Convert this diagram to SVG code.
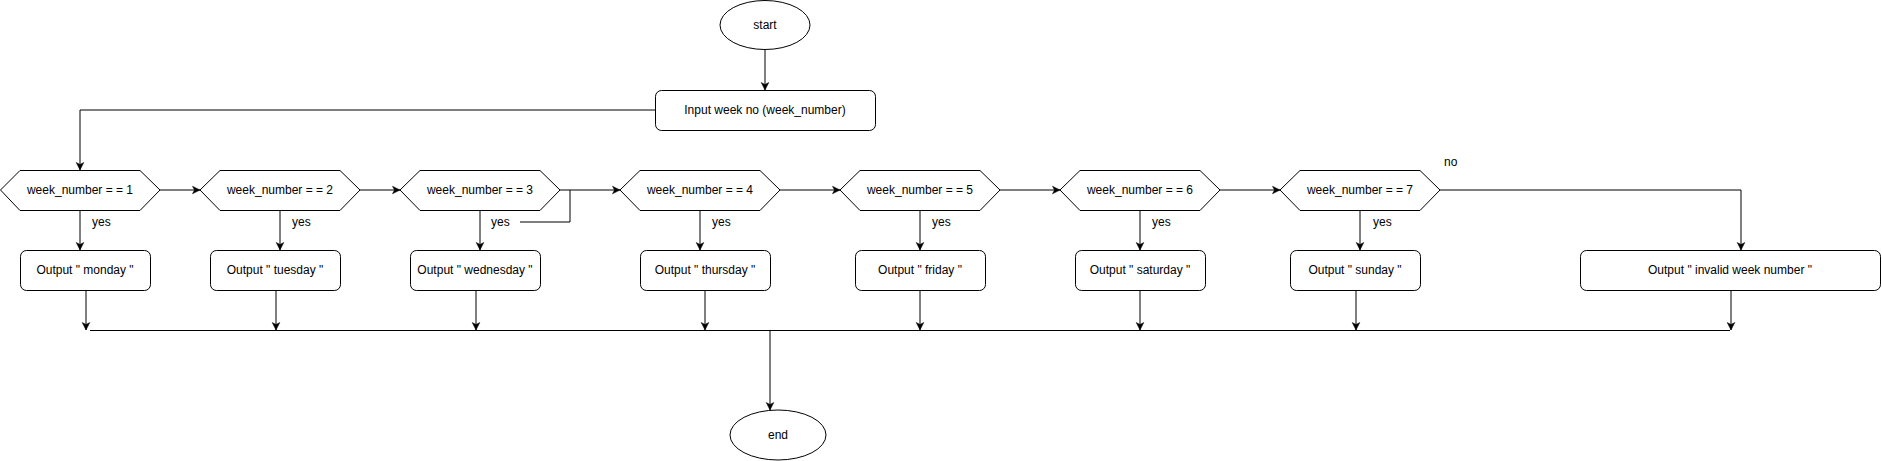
<svg xmlns="http://www.w3.org/2000/svg" width="1882" height="461" viewBox="0 0 1882 461">
<style>
  .shape { fill: #ffffff; stroke: #000000; stroke-width: 1; }
  .edge { fill: none; stroke: #000000; stroke-width: 1; }
  .arrow { marker-end: url(#arr); }
  text { font-family: "Liberation Sans", Arial, Helvetica, sans-serif; font-size: 12px; fill: #000000; }
  .c { text-anchor: middle; dominant-baseline: central; }
  .l { text-anchor: start; dominant-baseline: central; }
</style>
<defs>
  <marker id="arr" markerUnits="userSpaceOnUse" markerWidth="10" markerHeight="10" refX="8" refY="5" orient="auto">
    <path d="M0.5,1.2 L8,5 L0.5,8.8 L2.5,5 Z" fill="#000000" stroke="#000000" stroke-width="0.5"/>
  </marker>
</defs>
<rect x="0" y="0" width="1882" height="461" fill="#ffffff"/>

<g id="connectors">
  <path class="edge arrow" d="M765,50 L765,90"/>
  <path class="edge arrow" d="M655,110 L80,110 L80,170"/>
  <path class="edge arrow" d="M160,190 L200,190"/>
  <path class="edge arrow" d="M360,190 L400,190"/>
  <path class="edge arrow" d="M560,190 L620,190"/>
  <path class="edge" d="M570,190 L570,222 L520,222"/>
  <path class="edge arrow" d="M780,190 L840,190"/>
  <path class="edge arrow" d="M1000,190 L1060,190"/>
  <path class="edge arrow" d="M1220,190 L1280,190"/>
  <path class="edge arrow" d="M1440,190 L1741,190 L1741,250"/>
  <path class="edge arrow" d="M80,210 L80,250"/>
  <path class="edge arrow" d="M280,210 L280,250"/>
  <path class="edge arrow" d="M480,210 L480,250"/>
  <path class="edge arrow" d="M700,210 L700,250"/>
  <path class="edge arrow" d="M920,210 L920,250"/>
  <path class="edge arrow" d="M1140,210 L1140,250"/>
  <path class="edge arrow" d="M1360,210 L1360,250"/>
  <path class="edge arrow" d="M86,290 L86,330"/>
  <path class="edge arrow" d="M276,290 L276,330"/>
  <path class="edge arrow" d="M476,290 L476,330"/>
  <path class="edge arrow" d="M705,290 L705,330"/>
  <path class="edge arrow" d="M920,290 L920,330"/>
  <path class="edge arrow" d="M1140,290 L1140,330"/>
  <path class="edge arrow" d="M1356,290 L1356,330"/>
  <path class="edge arrow" d="M1731,290 L1731,330"/>
  <path class="edge" d="M90,330.5 L1730,330.5"/>
  <path class="edge arrow" d="M770,330 L770,410"/>
  <text class="l" x="92" y="222">yes</text>
  <text class="l" x="292" y="222">yes</text>
  <text class="l" x="491" y="222">yes</text>
  <text class="l" x="712" y="222">yes</text>
  <text class="l" x="932" y="222">yes</text>
  <text class="l" x="1152" y="222">yes</text>
  <text class="l" x="1373" y="222">yes</text>
  <text class="l" x="1444" y="162">no</text>
</g>

<g id="start">
  <ellipse class="shape" cx="765" cy="25" rx="45" ry="24.5"/>
  <text class="c" x="765" y="25">start</text>
</g>
<g id="input">
  <rect class="shape" x="655.5" y="90.5" width="220" height="40" rx="6"/>
  <text class="c" x="765" y="110">Input week no (week_number)</text>
</g>

<g id="dec1">
  <polygon class="shape" points="0.5,190 20,170.5 140,170.5 160,190 140,210.5 20,210.5"/>
  <text class="c" x="80" y="190">week_number = = 1</text>
</g>
<g id="dec2">
  <polygon class="shape" points="200,190 220,170.5 340,170.5 360,190 340,210.5 220,210.5"/>
  <text class="c" x="280" y="190">week_number = = 2</text>
</g>
<g id="dec3">
  <polygon class="shape" points="400,190 420,170.5 540,170.5 560,190 540,210.5 420,210.5"/>
  <text class="c" x="480" y="190">week_number = = 3</text>
</g>
<g id="dec4">
  <polygon class="shape" points="620,190 640,170.5 760,170.5 780,190 760,210.5 640,210.5"/>
  <text class="c" x="700" y="190">week_number = = 4</text>
</g>
<g id="dec5">
  <polygon class="shape" points="840,190 860,170.5 980,170.5 1000,190 980,210.5 860,210.5"/>
  <text class="c" x="920" y="190">week_number = = 5</text>
</g>
<g id="dec6">
  <polygon class="shape" points="1060,190 1080,170.5 1200,170.5 1220,190 1200,210.5 1080,210.5"/>
  <text class="c" x="1140" y="190">week_number = = 6</text>
</g>
<g id="dec7">
  <polygon class="shape" points="1280,190 1300,170.5 1420,170.5 1440,190 1420,210.5 1300,210.5"/>
  <text class="c" x="1360" y="190">week_number = = 7</text>
</g>

<g id="out1">
  <rect class="shape" x="20.5" y="250.5" width="130" height="40" rx="6"/>
  <text class="c" x="85" y="270">Output " monday "</text>
</g>
<g id="out2">
  <rect class="shape" x="210.5" y="250.5" width="130" height="40" rx="6"/>
  <text class="c" x="275" y="270">Output " tuesday "</text>
</g>
<g id="out3">
  <rect class="shape" x="410.5" y="250.5" width="130" height="40" rx="6"/>
  <text class="c" x="475" y="270">Output " wednesday "</text>
</g>
<g id="out4">
  <rect class="shape" x="640.5" y="250.5" width="130" height="40" rx="6"/>
  <text class="c" x="705" y="270">Output " thursday "</text>
</g>
<g id="out5">
  <rect class="shape" x="855.5" y="250.5" width="130" height="40" rx="6"/>
  <text class="c" x="920" y="270">Output " friday "</text>
</g>
<g id="out6">
  <rect class="shape" x="1075.5" y="250.5" width="130" height="40" rx="6"/>
  <text class="c" x="1140" y="270">Output " saturday "</text>
</g>
<g id="out7">
  <rect class="shape" x="1290.5" y="250.5" width="130" height="40" rx="6"/>
  <text class="c" x="1355" y="270">Output " sunday "</text>
</g>
<g id="out8">
  <rect class="shape" x="1580.5" y="250.5" width="300" height="40" rx="6"/>
  <text class="c" x="1730" y="270">Output " invalid week number "</text>
</g>

<g id="end">
  <ellipse class="shape" cx="778" cy="435" rx="48" ry="25"/>
  <text class="c" x="778" y="435">end</text>
</g>
</svg>
